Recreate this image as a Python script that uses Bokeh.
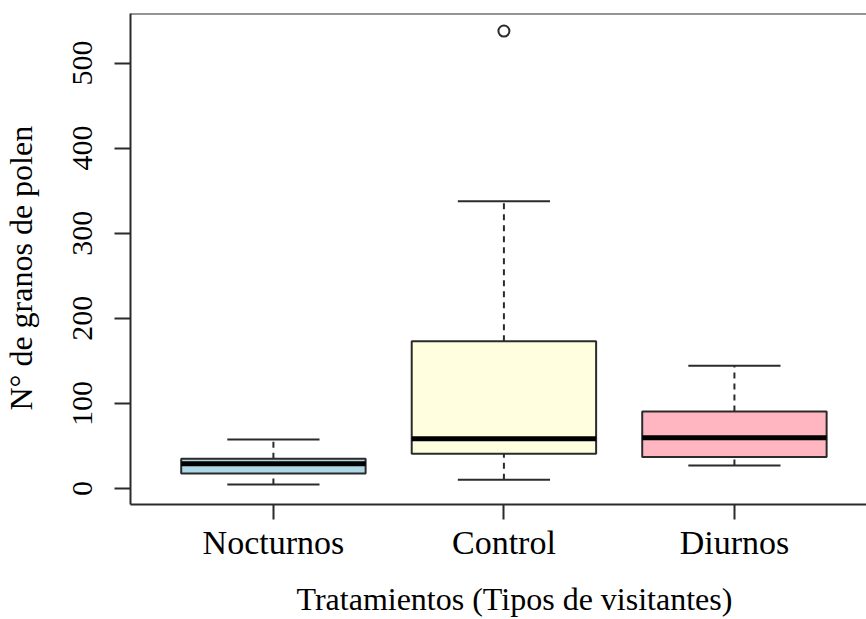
from bokeh.plotting import figure
from bokeh.models import FixedTicker, Span, ColumnDataSource, Range1d, Title
from bokeh.embed import file_html
from bokeh.resources import INLINE
import math

# ---- data ----
categories = ["Nocturnos", "Control", "Diurnos"]
positions = [1, 2, 3]
lower_whisker = [4.7, 10.2, 27.0]
q1 = [17.6, 40.8, 36.9]
median = [29.0, 58.4, 59.6]
q3 = [35.0, 173.0, 90.6]
upper_whisker = [57.6, 337.6, 144.3]
box_colors = ["#ADD8E6", "#FFFFE0", "#FFB6C1"]
outlier_x = [2]
outlier_y = [537.6]
y_ticks = [0, 100, 200, 300, 400, 500]
x_title = "Tratamientos (Tipos de visitantes)"
y_title = "N° de granos de polen"

FONT = '"Liberation Serif", serif'
LINE = "#2b2b2b"
box_w = 0.8
cap_w = 0.4

y_start, y_end = -18.8, 558.2
x_start, x_end = 0.38, 3.573

p = figure(width=866, height=619, output_backend="svg", toolbar_location=None,
           x_range=Range1d(x_start, x_end), y_range=Range1d(y_start, y_end),
           min_border_left=130, min_border_right=0, min_border_top=13, min_border_bottom=115)
p.outline_line_color = None
p.grid.visible = False
p.background_fill_color = "white"

src = ColumnDataSource(dict(
    x=positions, lo=lower_whisker, q1=q1, med=median, q3=q3, hi=upper_whisker,
    color=box_colors,
    cx0=[v - cap_w / 2 for v in positions], cx1=[v + cap_w / 2 for v in positions],
    mx0=[v - box_w / 2 for v in positions], mx1=[v + box_w / 2 for v in positions],
))

# whiskers (dashed)
p.segment(x0="x", y0="q3", x1="x", y1="hi", source=src, line_color=LINE, line_width=2, line_dash="6 5")
p.segment(x0="x", y0="lo", x1="x", y1="q1", source=src, line_color=LINE, line_width=2, line_dash="6 5")
# caps
p.segment(x0="cx0", y0="hi", x1="cx1", y1="hi", source=src, line_color=LINE, line_width=2)
p.segment(x0="cx0", y0="lo", x1="cx1", y1="lo", source=src, line_color=LINE, line_width=2)
# boxes
p.vbar(x="x", width=box_w, bottom="q1", top="q3", source=src, fill_color="color",
       line_color=LINE, line_width=2)
# medians
p.segment(x0="mx0", y0="med", x1="mx1", y1="med", source=src, line_color="black", line_width=5)
# outliers
p.scatter(outlier_x, outlier_y, marker="circle", size=11, fill_color=None,
          line_color=LINE, line_width=2)

# top frame line
p.add_layout(Span(location=y_end, dimension="width", line_color=LINE, line_width=2))

# x axis
xa = p.xaxis[0]
xa.ticker = FixedTicker(ticks=positions)
xa.major_label_overrides = {pos: c for pos, c in zip(positions, categories)}
xa.minor_tick_line_color = None
xa.major_tick_out = 15
xa.major_tick_in = 0
xa.major_label_standoff = 4
xa.major_label_text_font = FONT
xa.major_label_text_font_size = "34px"
xa.major_label_text_color = "black"
xa.axis_line_color = LINE
xa.axis_line_width = 2
xa.major_tick_line_color = LINE
xa.major_tick_line_width = 2

# y axis
ya = p.yaxis[0]
ya.ticker = FixedTicker(ticks=y_ticks)
ya.minor_tick_line_color = None
ya.major_tick_out = 16
ya.major_tick_in = 0
ya.major_label_orientation = "vertical"
ya.major_label_standoff = 22
ya.major_label_text_font = FONT
ya.major_label_text_font_style = "normal"
ya.major_label_text_font_size = "30px"
ya.major_label_text_color = "black"
ya.axis_line_color = LINE
ya.axis_line_width = 2
ya.major_tick_line_color = LINE
ya.major_tick_line_width = 2


def spacer(gap):
    # an invisible, near-zero-height title that only reserves room
    return Title(text=" ", text_font_size="1px", standoff=gap, text_color="white")


# gaps between tick labels and axis titles
p.add_layout(spacer(12), "below")
p.add_layout(spacer(29), "left")

# axis titles as side panels
p.add_layout(Title(text=x_title, align="left", offset=166, standoff=0,
                   text_font=FONT, text_font_size="32px", text_font_style="normal",
                   text_color="black"), "below")
p.add_layout(Title(text=y_title, align="left", offset=94, standoff=0,
                   text_font=FONT, text_font_size="32px", text_font_style="normal",
                   text_color="black"), "left")

open("out.html", "w").write(file_html(p, INLINE))
